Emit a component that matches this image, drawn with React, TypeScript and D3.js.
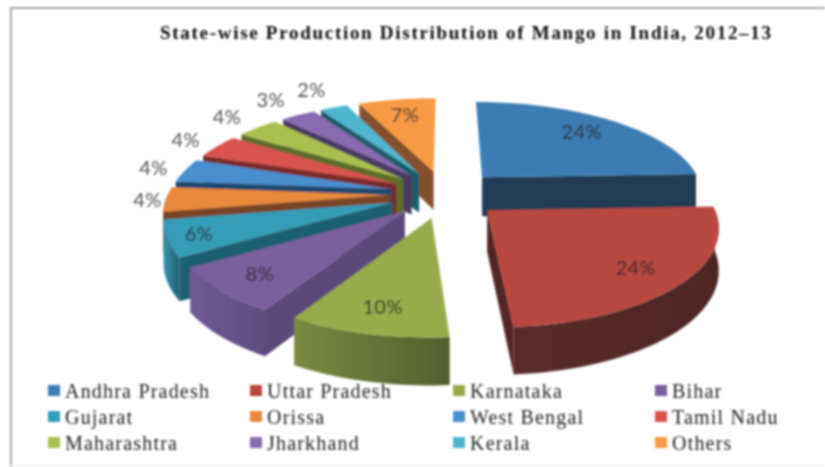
import React from 'react'
import * as d3 from 'd3'

const title = 'State-wise Production Distribution of Mango in India, 2012–13'
const states = ['Andhra Pradesh', 'Uttar Pradesh', 'Karnataka', 'Bihar', 'Gujarat', 'Orissa', 'West Bengal', 'Tamil Nadu', 'Maharashtra', 'Jharkhand', 'Kerala', 'Others']
const shares = [24.4, 24.4, 9.9, 7.7, 5.9, 4.0, 3.9, 3.9, 3.6, 3.0, 2.4, 6.9]
const topColors = ['#3d7db3', '#b8473f', '#98ab4b', '#7b5f9e', '#369db8', '#e8893a', '#4a8ecf', '#d9534f', '#a9c04f', '#8a6bb0', '#4fb6cf', '#f79a45']
const wallColors = ['#223d55', '#522826', '#5f6c33', '#5a4878', '#1f5f70', '#7a4526', '#1f4a70', '#7a2b2a', '#5f6c2c', '#4b3a62', '#1f5c6b', '#85502c']
const rimLight = ['#223d55', '#5a2c2a', '#7a8a42', '#6f5a92', '#3a94ab', '#7a4526', '#1f4a70', '#7a2b2a', '#5f6c2c', '#4b3a62', '#1f5c6b', '#85502c']
const rimDark = ['#223d55', '#4e2624', '#525f2e', '#5f4c80', '#1f5f70', '#7a4526', '#1f4a70', '#7a2b2a', '#5f6c2c', '#4b3a62', '#1f5c6b', '#85502c']
// how far each label sits from its slice's apex, along the slice's middle
const labelDist = [168, 175, 175, 178, 192, 240, 257, 265, 277, 290, 298, 165]

const cx = 445
const cy = 194
const R = 222
const explode = 55
const tilt = 0.434
const persp = 0.000725
const depth = 40

const project = (X: number, Y: number, h = 0): [number, number] => {
  const s = 1 + persp * Y
  return [cx + X * s, cy + tilt * Y * s + h * s]
}
// angle is clockwise from the top of the pie
const planePoint = (a: number, r: number, mid: number, off = explode): [number, number] => [
  off * Math.sin(mid) + r * Math.sin(a),
  -off * Math.cos(mid) - r * Math.cos(a),
]

const line = d3.line()
const arcAngles = (a0: number, a1: number) => {
  const n = Math.max(2, Math.ceil((a1 - a0) / 0.03))
  return d3.range(n + 1).map(i => a0 + ((a1 - a0) * i) / n)
}

const pie = d3.pie<number>().sort(null).startAngle(0).endAngle(Math.PI * 2)
const arcs = pie(shares)
const slices = arcs
  .map((d, i) => ({ a0: d.startAngle, a1: d.endAngle, mid: (d.startAngle + d.endAngle) / 2, i }))
  .sort((p, q) => -Math.cos(p.mid) + Math.cos(q.mid))

function Slice({ a0, a1, mid, i }: { a0: number; a1: number; mid: number; i: number }) {
  const apex = planePoint(0, 0, mid)
  const rimPts = arcAngles(a0, a1).map(a => planePoint(a, R, mid))
  const top = line([project(apex[0], apex[1]), ...rimPts.map(p => project(p[0], p[1]))])! + 'Z'

  const wall = (a: number) => {
    const e = planePoint(a, R, mid)
    return line([project(apex[0], apex[1]), project(e[0], e[1]), project(e[0], e[1], depth), project(apex[0], apex[1], depth)])! + 'Z'
  }
  const r0 = Math.max(a0, Math.PI / 2)
  const r1 = Math.min(a1, Math.PI * 1.5)
  let rim: string | null = null
  if (r1 > r0) {
    const pts = arcAngles(r0, r1).map(a => planePoint(a, R, mid))
    rim = line([...pts.map(p => project(p[0], p[1])), ...pts.slice().reverse().map(p => project(p[0], p[1], depth))])! + 'Z'
  }
  return (
    <g>
      {Math.sin(a0) < 0 && <path d={wall(a0)} fill={wallColors[i]} />}
      {Math.sin(a1) > 0 && <path d={wall(a1)} fill={wallColors[i]} />}
      {rim && <path d={rim} fill={`url(#rim${i})`} />}
      <path d={top} fill={topColors[i]} />
    </g>
  )
}

export default function App() {
  return (
    <svg width={825} height={467} style={{ position: 'absolute', left: 0, top: 0, background: '#fff' }}>
      <defs>
        <filter id="soft" x="0" y="0" width="825" height="467" filterUnits="userSpaceOnUse">
          <feGaussianBlur stdDeviation="0.9" />
        </filter>
        {states.map((s, i) => (
          <linearGradient key={s} id={`rim${i}`} x1="0" x2="1" y1="0" y2="0">
            <stop offset="0" stopColor={rimLight[i]} />
            <stop offset="1" stopColor={rimDark[i]} />
          </linearGradient>
        ))}
      </defs>
      <g filter="url(#soft)">
        <path d="M825,8H11V466" fill="none" stroke="#a8a8a8" strokeWidth={2} />
        <path d="M11,466H825" fill="none" stroke="#e8e8e8" strokeWidth={1} />
        <text x={160} y={39} textLength={611} fontFamily="Liberation Serif" fontWeight="bold" fontSize={19} fill="#111">
          {title}
        </text>
        {slices.map(s => <Slice key={s.i} {...s} />)}
        {arcs.map((d, i) => {
          const mid = (d.startAngle + d.endAngle) / 2
          const p = planePoint(mid, labelDist[i], mid)
          const [x, y] = project(p[0], p[1])
          return (
            <text key={states[i]} x={x} y={y + 7} textAnchor="middle" fontFamily="Lato" fontSize={20} letterSpacing={0.4}
              fill={i > 4 && i < 11 ? '#555' : '#2a2a2a'}>
              {d3.format('.0f')(shares[i])}%
            </text>
          )
        })}
        {states.map((s, i) => {
          const lx = [48, 250, 453, 655][i % 4]
          const ly = [391, 417, 443][Math.floor(i / 4)]
          return (
            <g key={s}>
              <rect x={lx} y={ly - 6} width={12} height={11} fill={topColors[i]} />
              <text x={lx + 17} y={ly + 7} fontFamily="Liberation Serif" fontSize={20} letterSpacing={1.2} fill="#222">{s}</text>
            </g>
          )
        })}
      </g>
    </svg>
  )
}
